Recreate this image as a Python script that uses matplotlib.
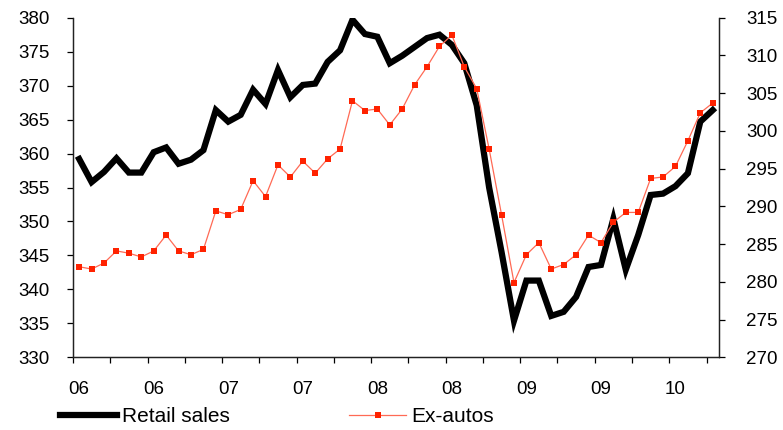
import numpy as np
import matplotlib

matplotlib.use('Agg')
import matplotlib.pyplot as plt
from matplotlib.lines import Line2D

plt.rcParams['font.family'] = ['Liberation Sans', 'DejaVu Sans']

# Monthly series, Jan 2006 - Apr 2010
retail_sales = [359.2, 355.8, 357.3, 359.3, 357.2, 357.2, 360.2, 360.9, 358.5, 359.1,
                360.5, 366.4, 364.7, 365.7, 369.4, 367.3, 372.3, 368.3, 370.1, 370.3,
                373.5, 375.2, 379.7, 377.6, 377.2, 373.3, 374.4, 375.7, 377.0, 377.5,
                376.0, 373.3, 367.1, 355.0, 345.5, 335.4, 341.3, 341.3, 336.1, 336.7,
                338.9, 343.3, 343.6, 350.4, 342.9, 348.0, 353.9, 354.1, 355.2, 357.1,
                364.7, 366.4]
ex_autos = [282.0, 281.7, 282.5, 284.1, 283.8, 283.3, 284.1, 286.2, 284.1, 283.6,
            284.3, 289.4, 288.9, 289.6, 293.4, 291.3, 295.5, 293.9, 296.0, 294.4,
            296.3, 297.6, 304.0, 302.7, 302.9, 300.8, 302.9, 306.1, 308.5, 311.2,
            312.7, 308.5, 305.6, 297.6, 288.9, 279.9, 283.6, 285.2, 281.7, 282.3,
            283.6, 286.2, 285.2, 287.9, 289.2, 289.2, 293.7, 293.9, 295.3, 298.7,
            302.4, 303.7]
year_labels = ['06', '06', '07', '07', '08', '08', '09', '09', '10']

n = len(retail_sales)
x = np.arange(n)

fig = plt.figure(figsize=(7.83, 4.30), dpi=100)
ax = fig.add_axes([0.0932, 0.169, 0.825, 0.7898])
ax2 = ax.twinx()

ax.plot(x, retail_sales, color='black', linewidth=4.5, solid_joinstyle='miter')
ax2.plot(x, ex_autos, color='#ff6a55', linewidth=0.9, marker='s', markersize=4.6,
         markerfacecolor='#ff2200', markeredgecolor='#ff2200', markeredgewidth=0)

ax.set_xlim(-0.5, n - 0.5)
ax.set_ylim(330, 380)
ax2.set_ylim(270, 315)
ax.set_yticks(np.arange(330, 381, 5))
ax2.set_yticks(np.arange(270, 316, 5))

# boundary ticks every quarter, labels every half year
ax.set_xticks(np.arange(-0.5, n - 0.5, 3))
ax.set_xticklabels([])
ax.set_xticks(np.arange(0, n, 6), minor=True)
ax.set_xticklabels(year_labels, minor=True)

for a in (ax, ax2):
    a.spines['top'].set_visible(False)
    for s in a.spines.values():
        s.set_linewidth(0.9)
        s.set_color('#222222')

ax.tick_params(axis='y', direction='out', length=4.5, width=0.9, labelsize=13.5, pad=12.5)
ax2.tick_params(axis='y', direction='out', length=4.5, width=0.9, labelsize=13.5, pad=15)
ax.tick_params(axis='x', which='major', direction='out', length=4.5, width=0.9)
ax.tick_params(axis='x', which='minor', length=0, labelsize=13.5, pad=17)

handles = [
    Line2D([], [], color='black', linewidth=4.5),
    Line2D([], [], color='#ff6a55', linewidth=0.9, marker='s', markersize=4.6,
           markerfacecolor='#ff2200', markeredgewidth=0),
]
fig.legend(handles, ['Retail sales', 'Ex-autos'], loc='center left',
           bbox_to_anchor=(60 / 783, 1 - 417 / 430), ncol=2, frameon=False,
           fontsize=15, handlelength=2.75, handletextpad=0.25, columnspacing=5.7,
           borderpad=0, borderaxespad=0)

fig.savefig('out.png', dpi=100)
plt.close(fig)
